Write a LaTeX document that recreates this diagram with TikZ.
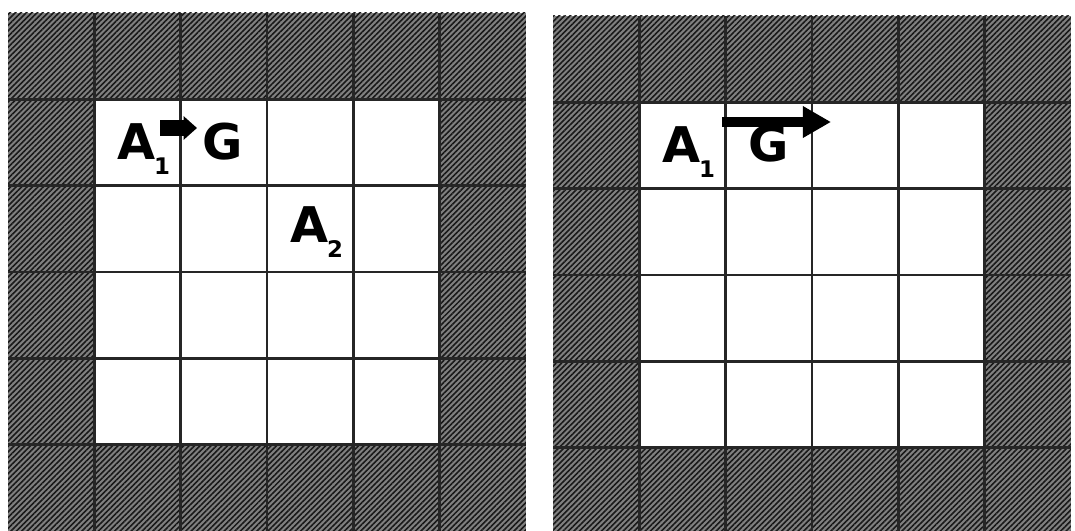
\documentclass[tikz,border=0pt]{standalone}
\usepackage{fontspec}
\setmainfont{DejaVu Sans}
\usetikzlibrary{arrows.meta,patterns.meta}

\newcommand{\cellsz}{86.3}
\newcommand{\agentlabel}[1]{A\kern-0.5pt\raisebox{-0.55ex}{\fontsize{6.5}{7}\selectfont #1}}
\newcommand{\drawworld}[2]{%
  \begin{scope}[shift={(#1,#2)}]
    \fill[wall] (0,0) rectangle (6*\cellsz,6*\cellsz);
    \fill[freecell] (\cellsz,\cellsz) rectangle (5*\cellsz,5*\cellsz);
    \foreach \i in {1,...,5} {
      \draw[gridline] (\i*\cellsz,0) -- (\i*\cellsz,6*\cellsz);
      \draw[gridline] (0,\i*\cellsz) -- (6*\cellsz,\i*\cellsz);
    }
  \end{scope}}

\begin{document}
\begin{tikzpicture}[
  x=0.1mm, y=-0.1mm,
  every node/.style={font=\fontsize{14}{15}\selectfont\bfseries, inner sep=0pt, anchor=base west},
  wall/.style={fill=black!50, postaction={pattern={Lines[angle=45,distance=1.1pt,line width=0.45pt]}, pattern color=black!90}},
  freecell/.style={fill=white},
  gridline/.style={black!85, line width=0.75pt},
  move/.style={-{Triangle[length=8pt,width=8.5pt]}, line width=3.1pt},
  smallmove/.style={-{Triangle[length=3.8pt,width=6.5pt]}, line width=4.3pt}
]
\useasboundingbox (0,0) rectangle (1075,531);
\fill[white] (0,0) rectangle (1075,531);
\clip (0,0) rectangle (1075,531);

% the two grid worlds
\drawworld{8}{13}
\drawworld{553}{16}

% left world
\node (a1L) at (117,160) {\agentlabel{1}};
\node (goalL) at (202,160) {G};
\node (a2L) at (290,243) {\agentlabel{2}};
\coordinate (stepLfrom) at (160,128);
\coordinate (stepLto) at (197,128);
\draw[smallmove] (stepLfrom) -- (stepLto);

% right world
\node (a1R) at (662,163) {\agentlabel{1}};
\node (goalR) at (748,162) {G};
\coordinate (stepRfrom) at (722,122);
\coordinate (stepRto) at (831,122);
\draw[move] (stepRfrom) -- (stepRto);

\end{tikzpicture}
\end{document}
